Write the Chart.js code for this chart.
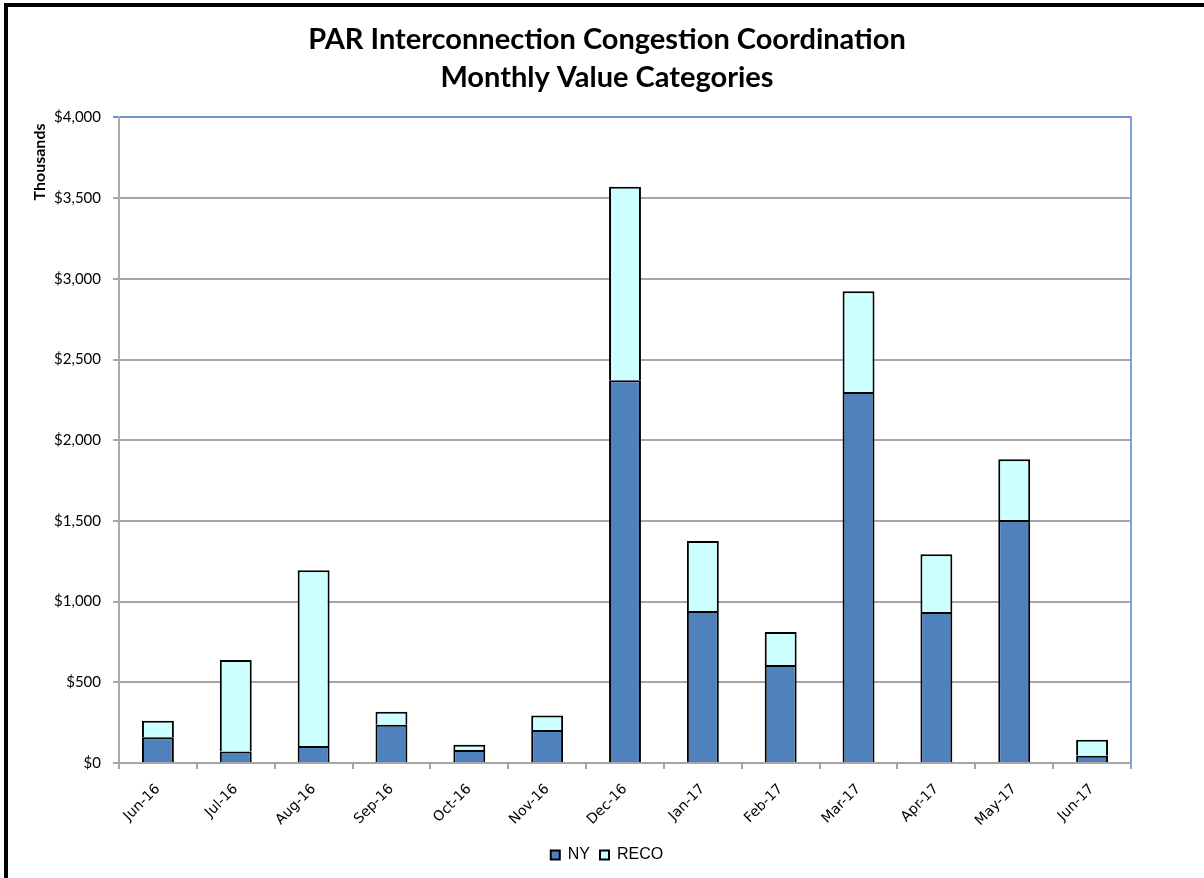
<!DOCTYPE html>
<html>
<head>
<meta charset="utf-8">
<script src="https://cdn.jsdelivr.net/npm/chart.js@4.4.1/dist/chart.umd.min.js"></script>
<style>
    body { margin: 0; background: #fff; overflow: hidden; }
    #wrap { position: relative; width: 1204px; height: 878px; }
    #frame {
        position: absolute; left: 4px; top: 3px; width: 1300px; height: 1000px;
        border-top: 4px solid #000; border-left: 4px solid #000; pointer-events: none;
    }
</style>
</head>
<body>
<div id="wrap">
    <canvas id="parChart" width="1204" height="878"></canvas>
    <div id="frame"></div>
</div>
<script>
// Kuukaudet ja arvot (tuhansia dollareita)
const months = ['Jun-16', 'Jul-16', 'Aug-16', 'Sep-16', 'Oct-16', 'Nov-16', 'Dec-16',
                'Jan-17', 'Feb-17', 'Mar-17', 'Apr-17', 'May-17', 'Jun-17'];
const nyValues   = [160, 72, 105, 237, 80, 204, 2372, 941, 607, 2299, 935, 1505, 45];
const recoValues = [102, 566, 1090, 81, 33, 91, 1199, 434, 204, 624, 359, 377, 99];
const titleLines = ['PAR Interconnection Congestion Coordination', 'Monthly Value Categories'];
const yAxisTitle = 'Thousands';

// Y-akselin otsikko piirretään käsin, koska se on akselin yläpäässä
const yTitlePlugin = {
    id: 'yTitle',
    afterDraw(chart) {
        const ctx = chart.ctx;
        ctx.save();
        ctx.translate(40, 162);
        ctx.rotate(-Math.PI / 2);
        ctx.font = 'bold 16px Lato';
        ctx.fillStyle = '#000';
        ctx.textAlign = 'center';
        ctx.textBaseline = 'middle';
        ctx.fillText(yAxisTitle, 0, 0);
        ctx.restore();
    }
};

const ctx = document.getElementById('parChart').getContext('2d');
const parChart = new Chart(ctx, {
    type: 'bar',
    data: {
        labels: months,
        datasets: [{
            label: 'NY',
            data: nyValues,
            backgroundColor: '#4F81BD',
            borderColor: '#000',
            borderWidth: 2,
            categoryPercentage: 1,
            barPercentage: 0.41
        }, {
            label: 'RECO',
            data: recoValues,
            backgroundColor: '#CCFFFF',
            borderColor: '#000',
            borderWidth: 2,
            categoryPercentage: 1,
            barPercentage: 0.41
        }]
    },
    options: {
        responsive: false,
        animation: false,
        layout: { padding: { left: 10, right: 0, top: 0, bottom: 5 } },
        plugins: {
            title: {
                display: true,
                text: titleLines,
                color: '#000',
                font: { family: 'Lato', size: 29, weight: 'bold', lineHeight: 1.3 },
                padding: { top: 21, bottom: 21 }
            },
            legend: {
                position: 'bottom',
                labels: {
                    color: '#000',
                    font: { family: 'Liberation Sans', size: 16 },
                    boxWidth: 9,
                    boxHeight: 9,
                    padding: 10
                }
            },
            tooltip: { enabled: false }
        },
        scales: {
            x: {
                stacked: true,
                grid: { drawOnChartArea: false, drawTicks: true, tickLength: 6, color: '#A6A6A6', lineWidth: 2 },
                border: { color: '#A6A6A6', width: 2 },
                ticks: {
                    color: '#000',
                    font: { family: 'DejaVu Sans', size: 14 },
                    minRotation: 45,
                    maxRotation: 45,
                    padding: 12
                },
                afterFit(scale) { scale.height = 74; }
            },
            y: {
                stacked: true,
                min: 0,
                max: 4000,
                grid: {
                    color: c => (c.tick && c.tick.value === 4000) ? '#6F93C6' : '#A6A6A6',
                    lineWidth: 2,
                    tickLength: 6
                },
                border: { color: '#A0AAB8', width: 2 },
                ticks: {
                    stepSize: 500,
                    color: '#000',
                    font: { family: 'Lato', size: 15 },
                    padding: 12,
                    callback: v => '$' + v.toLocaleString('en-US')
                },
                afterFit(scale) { scale.width = 109; }
            },
            y2: {
                position: 'right',
                min: 0,
                max: 4000,
                grid: { drawOnChartArea: false, drawTicks: false },
                border: { color: '#7FA3D6', width: 2 },
                ticks: { display: false },
                afterFit(scale) { scale.width = 73; }
            }
        }
    },
    plugins: [yTitlePlugin]
});
</script>
</body>
</html>
